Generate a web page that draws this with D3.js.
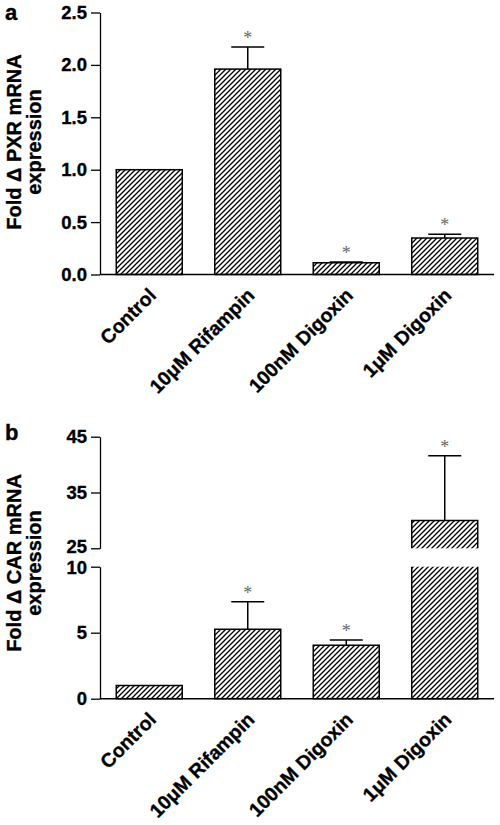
<!DOCTYPE html>
<html>
<head>
<meta charset="utf-8">
<script src="https://cdn.jsdelivr.net/npm/d3@7"></script>
<style>
  html, body { margin: 0; padding: 0; background: #fff; }
  svg { display: block; font-family: "Liberation Sans", Arial, Helvetica, sans-serif; }
</style>
</head>
<body>
<svg id="chart" width="500" height="825"></svg>
<script>
// ---------- data ----------
const categories = ["Control", "10\u03bcM Rifampin", "100nM Digoxin", "1\u03bcM Digoxin"];

// Panel a: PXR
const pxrMean  = [1.0, 1.96, 0.112, 0.348];
const pxrError = [0,   0.21, 0.008, 0.035];
const pxrSig   = [false, true, true, true];
const pxrTicks = [0, 0.5, 1.0, 1.5, 2.0, 2.5];

// Panel b: CAR (broken axis)
const carMean  = [1.0, 5.26, 4.05, 30.0];
const carError = [0,   2.09, 0.40, 11.6];
const carSig   = [false, true, true, true];
const carTicksLow  = [0, 5, 10];
const carTicksHigh = [25, 35, 45];

const panelLabels = ["a", "b"];
const yTitlesA = ["Fold \u0394 PXR mRNA", "expression"];
const yTitlesB = ["Fold \u0394 CAR mRNA", "expression"];

// ---------- setup ----------
const svg = d3.select("#chart");
const defs = svg.append("defs");
const pat = defs.append("pattern")
  .attr("id", "hatch").attr("patternUnits", "userSpaceOnUse")
  .attr("width", 5).attr("height", 5);
pat.append("rect").attr("width", 5).attr("height", 5).attr("fill", "#fff");
pat.append("path")
  .attr("d", "M-1,1 l2,-2 M0,5 l5,-5 M4,6 l2,-2")
  .attr("stroke", "#000").attr("stroke-width", 1.3);

const left = 100, right = 494;
const x = d3.scaleBand().domain(categories).range([left, right])
  .paddingInner(0.33).paddingOuter(0.165);

const boldStroke = 0.35;
function styleAxis(g) {
  g.selectAll("text").attr("font-size", "18.5px").attr("font-weight", "bold")
    .attr("fill", "#000").attr("stroke", "#000").attr("stroke-width", boldStroke)
    .attr("font-family", "'Liberation Sans', Arial, sans-serif");
  g.selectAll("line").attr("stroke", "#000").attr("stroke-width", 1.3);
  g.selectAll("path.domain").attr("stroke", "#000").attr("stroke-width", 1.3);
}

function asterisk(gx, gy) {
  svg.append("text").attr("x", gx).attr("y", gy)
    .attr("text-anchor", "middle")
    .attr("font-family", "'Liberation Serif', 'DejaVu Serif', serif")
    .attr("font-size", 18).attr("fill", "#666").text("*");
}

function xAxis(y0) {
  svg.append("line").attr("x1", left).attr("x2", right)
    .attr("y1", y0).attr("y2", y0).attr("stroke", "#000").attr("stroke-width", 1.5);
  categories.forEach(c => {
    const cx = x(c) + x.bandwidth() / 2;
    svg.append("text")
      .attr("transform", `translate(${cx + 8},${y0 + 22}) rotate(-45)`)
      .attr("text-anchor", "end")
      .attr("stroke", "#000").attr("stroke-width", boldStroke)
      .attr("font-size", 19.5).attr("font-weight", "bold").text(c);
  });
}

function yTitle(lines, cy) {
  const g = svg.append("g").attr("transform", `translate(0,${cy}) rotate(-90)`);
  g.append("text").attr("x", 0).attr("y", 21).attr("text-anchor", "middle")
    .attr("stroke", "#000").attr("stroke-width", boldStroke)
    .attr("font-size", 20).attr("font-weight", "bold").text(lines[0]);
  g.append("text").attr("x", 0).attr("y", 41).attr("text-anchor", "middle")
    .attr("stroke", "#000").attr("stroke-width", boldStroke)
    .attr("font-size", 20).attr("font-weight", "bold").text(lines[1]);
}

// ---------- Panel a ----------
const yA = d3.scaleLinear().domain([0, 2.5]).range([274.5, 12.5]);
const axA = svg.append("g").attr("transform", `translate(${left},0)`)
  .call(d3.axisLeft(yA).tickValues(pxrTicks).tickFormat(d3.format(".1f"))
    .tickSize(9).tickSizeOuter(0).tickPadding(4));
styleAxis(axA);

categories.forEach((c, i) => {
  const bx = x(c), bw = x.bandwidth(), cx = bx + bw / 2;
  svg.append("rect").attr("x", bx).attr("y", yA(pxrMean[i]))
    .attr("width", bw).attr("height", yA(0) - yA(pxrMean[i]))
    .attr("fill", "url(#hatch)").attr("stroke", "#000").attr("stroke-width", 1.5);
  if (pxrError[i] > 0) {
    const ey = yA(pxrMean[i] + pxrError[i]);
    svg.append("line").attr("x1", cx).attr("x2", cx)
      .attr("y1", yA(pxrMean[i])).attr("y2", ey).attr("stroke", "#000").attr("stroke-width", 1.5);
    svg.append("line").attr("x1", cx - bw / 4).attr("x2", cx + bw / 4)
      .attr("y1", ey).attr("y2", ey).attr("stroke", "#000").attr("stroke-width", 1.5);
    if (pxrSig[i]) asterisk(cx, ey - 3);
  }
});
xAxis(yA(0));
yTitle(yTitlesA, 142);
svg.append("text").attr("x", 5).attr("y", 20).attr("font-size", 22)
  .attr("stroke", "#000").attr("stroke-width", boldStroke)
  .attr("font-weight", "bold").text(panelLabels[0]);

// ---------- Panel b (broken axis) ----------
const yLow  = d3.scaleLinear().domain([0, 10]).range([698.7, 566.7]);
const yHigh = d3.scaleLinear().domain([25, 45]).range([548.3, 436.7]);

const axBL = svg.append("g").attr("transform", `translate(${left},0)`)
  .call(d3.axisLeft(yLow).tickValues(carTicksLow).tickFormat(d3.format("d"))
    .tickSize(9).tickSizeOuter(0).tickPadding(4));
styleAxis(axBL);
const axBH = svg.append("g").attr("transform", `translate(${left},0)`)
  .call(d3.axisLeft(yHigh).tickValues(carTicksHigh).tickFormat(d3.format("d"))
    .tickSize(9).tickSizeOuter(0).tickPadding(4));
styleAxis(axBH);
// nudge the two labels at the break apart slightly, like the reference
axBH.selectAll(".tick text").filter(d => d === 25).attr("dy", "0.25em");
axBL.selectAll(".tick text").filter(d => d === 10).attr("dy", "0.38em");

categories.forEach((c, i) => {
  const bx = x(c), bw = x.bandwidth(), cx = bx + bw / 2;
  const v = carMean[i];
  let topY;
  if (v <= 10) {
    topY = yLow(v);
    svg.append("rect").attr("x", bx).attr("y", topY)
      .attr("width", bw).attr("height", yLow(0) - topY)
      .attr("fill", "url(#hatch)").attr("stroke", "#000").attr("stroke-width", 1.5);
  } else {
    svg.append("rect").attr("x", bx).attr("y", yLow(10))
      .attr("width", bw).attr("height", yLow(0) - yLow(10)).attr("fill", "url(#hatch)");
    svg.append("path")
      .attr("d", `M${bx},${yLow(10)} V${yLow(0)} H${bx + bw} V${yLow(10)}`)
      .attr("fill", "none").attr("stroke", "#000").attr("stroke-width", 1.5);
    topY = yHigh(v);
    svg.append("rect").attr("x", bx).attr("y", topY)
      .attr("width", bw).attr("height", yHigh(25) - topY).attr("fill", "url(#hatch)");
    svg.append("path")
      .attr("d", `M${bx},${yHigh(25)} V${topY} H${bx + bw} V${yHigh(25)}`)
      .attr("fill", "none").attr("stroke", "#000").attr("stroke-width", 1.5);
  }
  if (carError[i] > 0) {
    const top = v + carError[i];
    const ey = top > 10 ? yHigh(top) : yLow(top);
    svg.append("line").attr("x1", cx).attr("x2", cx)
      .attr("y1", topY).attr("y2", ey).attr("stroke", "#000").attr("stroke-width", 1.5);
    svg.append("line").attr("x1", cx - bw / 4).attr("x2", cx + bw / 4)
      .attr("y1", ey).attr("y2", ey).attr("stroke", "#000").attr("stroke-width", 1.5);
    if (carSig[i]) asterisk(cx, ey - 3);
  }
});
xAxis(yLow(0));
yTitle(yTitlesB, 563);
svg.append("text").attr("x", 5).attr("y", 440).attr("font-size", 22)
  .attr("stroke", "#000").attr("stroke-width", boldStroke)
  .attr("font-weight", "bold").text(panelLabels[1]);
</script>
</body>
</html>
